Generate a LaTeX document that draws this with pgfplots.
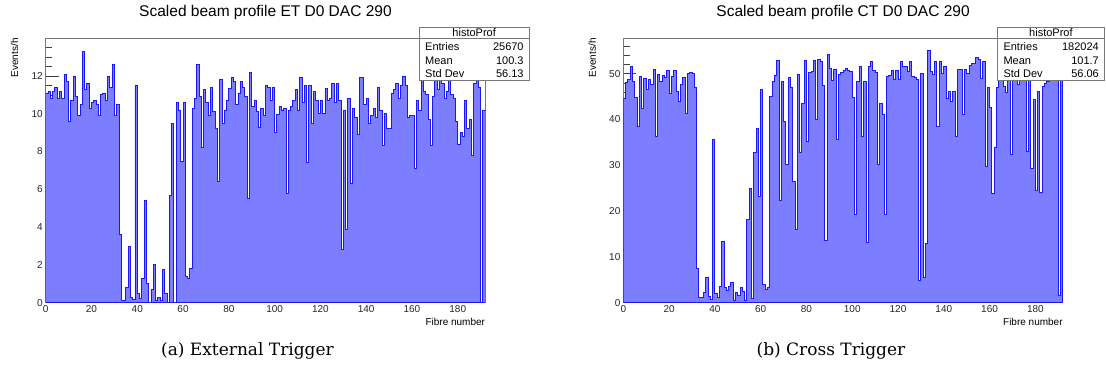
\documentclass[border=0pt]{standalone}
\usepackage{fontspec}
\setmainfont{Liberation Sans}
\newfontfamily\capfont{DejaVu Serif}
\usepackage{pgfplots}
\usepackage{pgfplotstable}
\pgfplotsset{compat=1.18}

% Scaled beam profile, external trigger (bin lower edge, events per hour)
\pgfplotstableread{
fibre events
0 11.1
1 11.2
2 10.8
3 11.2
4 11.4
5 10.8
6 11.2
7 10.8
8 12.1
9 11.7
10 9.6
11 10.7
12 12.0
13 10.9
14 9.9
15 10.5
16 13.3
17 11.3
18 11.6
19 10.3
20 10.6
21 10.7
22 10.5
23 9.9
24 11.0
25 11.1
26 10.7
27 12.0
28 11.4
29 12.6
30 9.9
31 10.5
32 3.6
33 0.1
34 0.1
35 0.8
36 3.0
37 0.3
38 0.15
39 11.5
40 0.5
41 0.2
42 1.3
43 5.4
44 1.0
45 0.0
46 0.7
47 2.0
48 0.1
49 0.3
50 0.1
51 1.75
52 0.5
53 0.0
54 5.7
55 9.5
56 0.0
57 10.6
58 10.2
59 7.5
60 10.6
61 1.4
62 1.3
63 1.8
64 10.3
65 10.8
66 12.6
67 10.9
68 8.2
69 11.3
70 10.6
71 9.9
72 11.4
73 10.1
74 9.2
75 6.4
76 11.8
77 9.5
78 10.2
79 10.7
80 11.35
81 11.9
82 11.7
83 10.5
84 11.1
85 11.7
86 11.4
87 10.9
88 5.5
89 12.2
90 10.4
91 10.7
92 10.1
93 9.3
94 10.3
95 9.9
96 11.5
97 11.4
98 10.7
99 11.4
100 9.0
101 9.95
102 10.4
103 10.2
104 10.3
105 5.8
106 10.2
107 10.4
108 10.7
109 11.3
110 10.2
111 11.9
112 10.6
113 11.5
114 7.4
115 11.5
116 9.5
117 11.2
118 10.7
119 10.0
120 10.7
121 10.0
122 11.35
123 10.7
124 10.8
125 11.6
126 10.6
127 11.6
128 10.7
129 2.8
130 10.2
131 3.9
132 10.8
133 6.3
134 10.3
135 9.8
136 8.9
137 11.9
138 11.9
139 10.5
140 10.8
141 9.5
142 9.9
143 10.3
144 9.8
145 11.4
146 10.2
147 8.3
148 10.0
149 9.2
150 9.2
151 11.1
152 11.3
153 11.6
154 10.8
155 11.5
156 12.0
157 11.5
158 9.8
159 9.9
160 9.9
161 7.1
162 10.7
163 10.2
164 11.8
165 11.2
166 11.0
167 9.7
168 8.3
169 10.9
170 11.9
171 11.3
172 12.0
173 11.6
174 10.8
175 11.2
176 12.2
177 11.0
178 10.8
179 9.6
180 8.4
181 9.0
182 8.8
183 10.7
184 9.2
185 9.7
186 7.8
187 11.6
188 12.0
189 11.4
190 0.0
191 10.2
192 10.2
}\etdata

% Scaled beam profile, cross trigger
\pgfplotstableread{
fibre events
0 44.5
1 48.0
2 48.8
3 51.6
4 48.3
5 44.8
6 38.5
7 49.3
8 42.5
9 49.0
10 46.6
11 48.7
12 47.7
13 51.0
14 36.3
15 49.8
16 48.2
17 49.6
18 49.1
19 50.7
20 45.6
21 49.4
22 50.7
23 46.1
24 43.9
25 47.6
26 49.2
27 41.3
28 50.0
29 50.3
30 50.0
31 46.9
32 7.5
33 1.1
34 1.1
35 2.2
36 5.5
37 1.3
38 0.7
39 35.6
40 2.0
41 1.1
42 3.6
43 13.3
44 3.4
45 2.6
46 3.6
47 4.4
48 0.6
49 2.2
50 1.5
51 3.4
52 2.5
53 0.6
54 18.1
55 24.9
56 0.9
57 32.7
58 38.1
59 23.2
60 46.5
61 3.9
62 2.9
63 3.4
64 45.0
65 48.3
66 49.6
67 52.8
68 22.4
69 48.3
70 39.6
71 30.1
72 49.1
73 46.9
74 26.5
75 15.9
76 49.8
77 32.7
78 43.6
79 52.8
80 35.2
81 50.3
82 50.5
83 52.8
84 40.0
85 53.1
86 52.7
87 47.4
88 13.6
89 54.2
90 51.2
91 48.5
92 51.0
93 35.7
94 49.8
95 50.3
96 50.7
97 51.1
98 50.7
99 50.5
100 44.9
101 19.3
102 48.2
103 51.5
104 36.3
105 48.3
106 13.2
107 51.5
108 52.6
109 50.7
110 50.3
111 30.1
112 43.6
113 41.0
114 19.2
115 49.3
116 49.6
117 50.7
118 48.7
119 50.7
120 48.7
121 52.6
122 51.6
123 51.6
124 50.5
125 52.7
126 49.3
127 49.1
128 48.7
129 4.8
130 50.0
131 5.5
132 13.0
133 55.0
134 50.5
135 49.8
136 52.6
137 38.4
138 52.6
139 50.0
140 51.6
141 44.7
142 46.1
143 43.9
144 46.1
145 36.3
146 51.0
147 51.0
148 41.0
149 51.0
150 50.1
151 51.8
152 52.2
153 52.2
154 53.6
155 53.1
156 48.9
157 52.7
158 29.7
159 46.9
160 42.7
161 23.9
162 34.0
163 47.0
164 50.5
165 50.5
166 47.2
167 46.0
168 50.5
169 32.3
170 50.0
171 49.0
172 47.6
173 50.0
174 49.5
175 50.0
176 33.0
177 50.0
178 29.4
179 44.3
180 24.6
181 46.1
182 24.0
183 47.2
184 47.9
185 48.3
186 48.7
187 49.0
188 49.5
189 50.0
190 1.5
191 49.0
192 49.0
}\ctdata

\definecolor{histfill}{RGB}{125,125,255}
\definecolor{histline}{RGB}{25,25,245}
\definecolor{framegray}{RGB}{120,120,120}

\pgfplotsset{
  rootpad/.style={
    scale only axis,
    width=439.5bp, height=264.5bp,
    xmin=0, xmax=192,
    axis line style={draw=framegray, line width=0.7bp},
    tick align=inside,
    tick pos=left,
    tick style={draw=black!75, line width=0.5bp},
    xtick style={/pgfplots/major tick length=8bp, /pgfplots/minor tick length=4bp},
    ytick style={/pgfplots/major tick length=13bp, /pgfplots/minor tick length=6.5bp},
    xtick={0,20,...,180},
    minor xtick={5,10,...,190},
    /pgf/number format/assume math mode=true,
    ticklabel style={font=\fontsize{10bp}{12bp}\selectfont, text=black!85},
    xticklabel style={inner sep=3bp},
    yticklabel style={inner sep=2.8bp},
    xlabel={Fibre number},
    xlabel style={at={([yshift=-22.3bp]axis description cs:1,0)}, anchor=base east,
      inner sep=0pt, font=\fontsize{10bp}{12bp}\selectfont},
    ylabel={Events/h},
    ylabel style={at={([xshift=-27.5bp]axis description cs:0,1)}, anchor=base east,
      inner sep=0pt, font=\fontsize{10bp}{12bp}\selectfont},
    title style={at={([yshift=15.6bp]axis description cs:0.5,1)}, anchor=base,
      inner sep=0pt, font=\fontsize{15.5bp}{18bp}\selectfont},
  },
  histo/.style={const plot mark left, fill=histfill, draw=histline, line width=0.9bp},
}

\usetikzlibrary{calc}

\newcommand{\statbox}[5]{%
  % #1 left x, #2 right x, #3 entries, #4 mean, #5 std dev
  \fill[white] (#1,296bp) rectangle (#2,348.3bp);
  \draw[framegray, line width=0.6bp] (#1,296bp) rectangle (#2,348.3bp);
  \draw[framegray, line width=0.6bp] (#1,337.7bp) -- (#2,337.7bp);
  \begin{scope}[font=\fontsize{11bp}{13bp}\selectfont, inner sep=0pt]
    \path ($(#1,339.2bp)!0.5!(#2,339.2bp)$) node[anchor=base] {histoProf};
    \node[anchor=base west] at ([xshift=6bp]#1,325.2bp) {Entries};
    \node[anchor=base west] at ([xshift=6bp]#1,311.9bp) {Mean};
    \node[anchor=base west] at ([xshift=6bp]#1,298.6bp) {Std Dev};
    \node[anchor=base east] at ([xshift=-5.5bp]#2,325.2bp) {#3};
    \node[anchor=base east] at ([xshift=-5.5bp]#2,311.9bp) {#4};
    \node[anchor=base east] at ([xshift=-5.5bp]#2,298.6bp) {#5};
  \end{scope}
}

\begin{document}
\begin{tikzpicture}[x=1bp, y=1bp]
\useasboundingbox (0,0) rectangle (1106,376);

\begin{axis}[rootpad,
  at={(45.7bp,73.3bp)}, anchor=south west,
  ymin=0, ymax=14.0,
  ytick={0,2,...,12},
  minor ytick={0.5,1,...,13.5},
  title={Scaled beam profile ET D0 DAC 290},
]
\addplot[histo] table[x=fibre, y=events] {\etdata} \closedcycle;
\end{axis}

\begin{axis}[rootpad,
  at={(623.3bp,73.3bp)}, anchor=south west,
  ymin=0, ymax=57.75,
  ytick={0,10,...,50},
  minor ytick={2,4,...,56},
  title={Scaled beam profile CT D0 DAC 290},
]
\addplot[histo] table[x=fibre, y=events] {\ctdata} \closedcycle;
\end{axis}

\statbox{419bp}{529.3bp}{25670}{100.3}{56.13}
\statbox{997.3bp}{1104.5bp}{182024}{101.7}{56.06}

\node[anchor=base, inner sep=0pt, font=\capfont\fontsize{17bp}{20bp}\selectfont]
  at (247.5bp,21bp) {(a) External Trigger};
\node[anchor=base, inner sep=0pt, font=\capfont\fontsize{17bp}{20bp}\selectfont]
  at (831bp,21bp) {(b) Cross Trigger};
\end{tikzpicture}
\end{document}
